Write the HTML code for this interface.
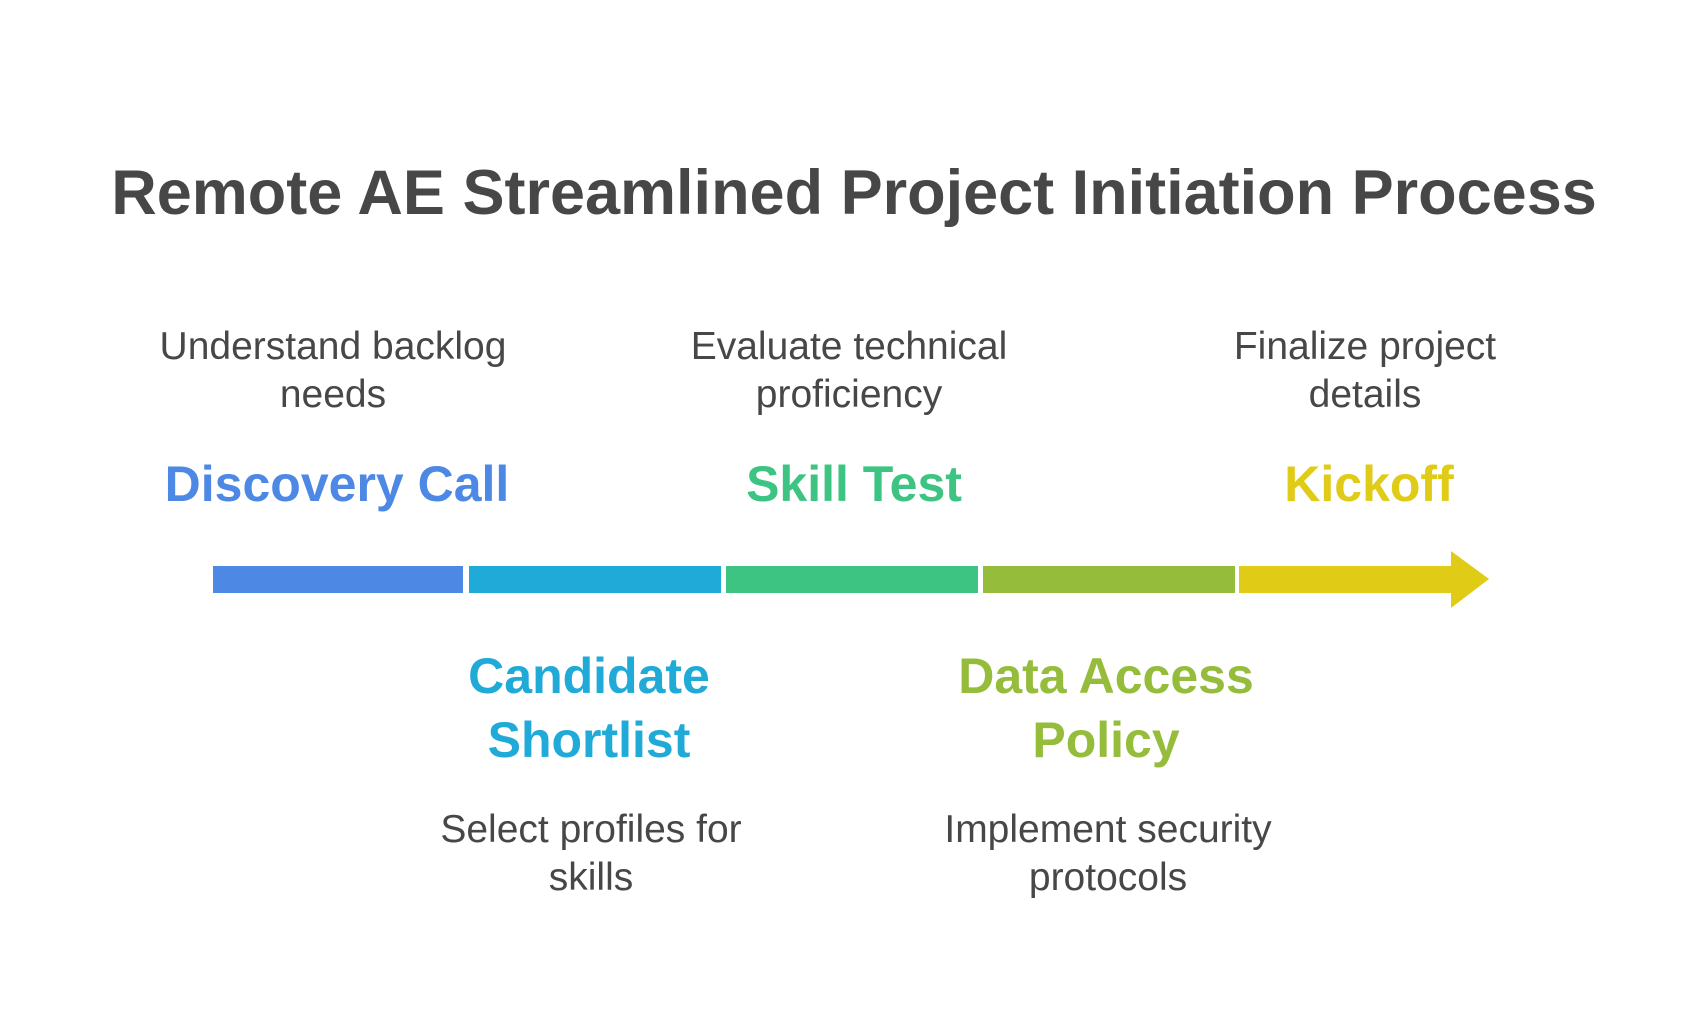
<!DOCTYPE html>
<html><head><meta charset="utf-8"><style>
body{margin:0;width:1704px;height:1032px;background:#fff;overflow:hidden;position:relative;font-family:"Liberation Sans",Arial,sans-serif}
.t{position:absolute;white-space:nowrap;transform:translateX(-50%);text-align:center}
.title{font-size:63px;font-weight:bold;color:#474747;left:854px;top:157px}
.d{font-size:39px;color:#474747;line-height:48px}
.l{font-size:50px;font-weight:bold;line-height:64px}
</style></head><body>
<div class="t title">Remote AE Streamlined Project Initiation Process</div>

<div class="t d" style="left:333px;top:323px">Understand backlog<br>needs</div>
<div class="t d" style="left:849px;top:323px">Evaluate technical<br>proficiency</div>
<div class="t d" style="left:1365px;top:323px">Finalize project<br>details</div>

<div class="t l" style="left:337px;top:452px;color:#4e88e5">Discovery Call</div>
<div class="t l" style="left:854px;top:452px;color:#3dc482">Skill Test</div>
<div class="t l" style="left:1369px;top:452px;color:#e0cb16">Kickoff</div>

<div class="t l" style="left:589px;top:644px;color:#20aad8">Candidate<br>Shortlist</div>
<div class="t l" style="left:1106px;top:644px;color:#95bd3b">Data Access<br>Policy</div>

<div class="t d" style="left:591px;top:806px">Select profiles for<br>skills</div>
<div class="t d" style="left:1108px;top:806px">Implement security<br>protocols</div>

<svg style="position:absolute;left:0;top:0" width="1704" height="1032">
<rect x="213" y="566" width="250" height="27" fill="#4e88e5"/>
<rect x="469" y="566" width="252" height="27" fill="#20aad8"/>
<rect x="726" y="566" width="252" height="27" fill="#3dc482"/>
<rect x="983" y="566" width="252" height="27" fill="#95bd3b"/>
<polygon points="1239,566 1451,566 1451,551 1489,579 1451,608 1451,593 1239,593" fill="#e0cb16"/>
</svg>
</body></html>
